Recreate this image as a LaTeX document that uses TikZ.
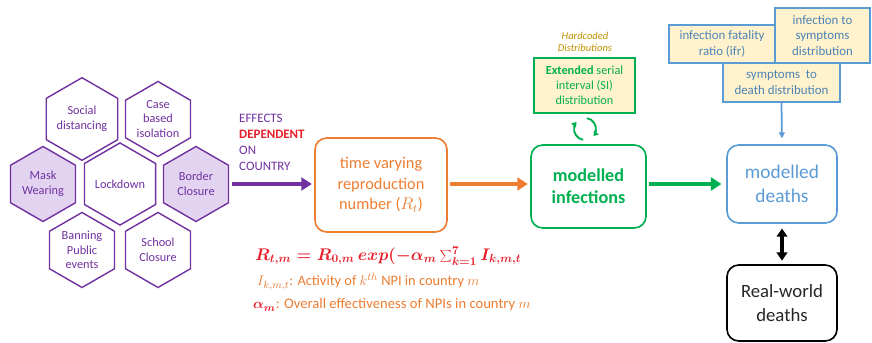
\documentclass[tikz,border=0pt]{standalone}
\usepackage{fontspec}
\setmainfont{Carlito}
\usetikzlibrary{shapes.geometric,arrows.meta}
\definecolor{npipurple}{RGB}{112,48,160}
\definecolor{npifill}{RGB}{226,212,240}
\definecolor{rtorange}{RGB}{237,125,49}
\definecolor{infgreen}{RGB}{0,176,80}
\definecolor{dthblue}{RGB}{91,155,213}
\definecolor{distbeige}{RGB}{255,242,204}
\definecolor{hardgold}{RGB}{191,144,0}
\definecolor{effred}{RGB}{232,30,40}
\newcommand{\rtmformula}{\mbox{\boldmath$R_{t,m} = R_{0,m}\, exp\bigl(-\alpha_m \textstyle\sum_{k=1}^{7} I_{k,m,t}$}}
\newcommand{\alphabold}{\mbox{\boldmath$\alpha_m$}}

\begin{document}
\begin{tikzpicture}[x=0.03cm, y=-0.03cm,
    hexa/.style={regular polygon, regular polygon sides=6, shape border rotate=30, minimum size=2.25cm,
      inner sep=0pt, draw=npipurple, line width=1.2pt, text=npipurple, align=center,
      font=\fontsize{10.5}{12.5}\selectfont},
    hexon/.style={hexa, fill=npifill},
    stagebox/.style={draw, rounded corners=10pt, line width=1.4pt, align=center, inner sep=0pt,
      font=\fontsize{14}{17.5}\selectfont},
    distbox/.style={draw=dthblue, fill=distbeige, line width=1.4pt, align=center, inner sep=0pt,
      text=dthblue!85!black, font=\fontsize{11}{13}\selectfont},
    fatarrow/.style={line width=2.6pt, -{Triangle[length=9pt, width=11pt]}}]
  \useasboundingbox (0,0) rectangle (872,343);

  % the NPIs
  \node[hexa]  (social) at (82,119)  {Social\\distancing};
  \node[hexa]  (case)   at (158,119) {Case\\based\\isolation};
  \node[hexon] (mask)   at (43,184)  {Mask\\Wearing};
  \node[hexa]  (lock)   at (120,184) {Lockdown};
  \node[hexon] (border) at (196,184) {Border\\Closure};
  \node[hexa]  (ban)    at (82,250)  {Banning\\Public\\events};
  \node[hexa]  (school) at (158,250) {School\\Closure};

  \node[anchor=west, inner sep=0pt, align=left, text=npipurple, font=\fontsize{11}{13.6}\selectfont]
    (effects) at (239,142) {EFFECTS\\\textcolor{effred}{\textbf{DEPENDENT}}\\ON\\COUNTRY};

  % model chain
  \node[stagebox, draw=rtorange, text=rtorange, minimum width=3.96cm, minimum height=2.82cm]
    (rt) at (381,185) {time varying\\reproduction\\number ($R_t$)};
  \node[stagebox, draw=infgreen, text=infgreen, minimum width=3.45cm, minimum height=2.49cm,
    font=\fontsize{15.5}{19}\selectfont\bfseries]
    (inf) at (588.5,186.5) {modelled\\infections};
  \node[stagebox, draw=dthblue, text=dthblue, minimum width=3.3cm, minimum height=2.34cm,
    font=\fontsize{16.5}{20}\selectfont]
    (mdeaths) at (782,184) {modelled\\deaths};
  \node[stagebox, draw=black, text=black!85, minimum width=3.3cm, minimum height=2.28cm,
    font=\fontsize{16}{20}\selectfont]
    (rwdeaths) at (782,303) {Real-world\\deaths};

  % hardcoded distributions
  \node[font=\fontsize{9}{10.5}\selectfont\itshape, text=hardgold, align=center]
    (hard) at (585,42) {Hardcoded\\Distributions};
  \node[distbox, draw=infgreen, text=infgreen, minimum width=3.03cm, minimum height=1.65cm,
    font=\fontsize{10.5}{13}\selectfont]
    (si) at (584.5,85.5) {\textbf{Extended} serial\\interval (SI)\\distribution};
  \node[distbox, minimum width=3.18cm, minimum height=1.14cm] (ifr) at (722,44)
    {infection fatality\\ratio (ifr)};
  \node[distbox, minimum width=2.85cm, minimum height=1.65cm] (its) at (822.5,35.5)
    {infection to\\symptoms\\distribution};
  \node[distbox, minimum width=3.51cm, minimum height=1.17cm] (std) at (781.5,82.5)
    {symptoms\ \ to\\death distribution};

  % formulas
  \node[anchor=west, inner sep=0pt, text=effred, font=\fontsize{14}{16}\selectfont] (eq) at (255,256) {\rtmformula};
  \node[anchor=west, inner sep=0pt, text=rtorange, font=\fontsize{12.3}{14}\selectfont] (act) at (257,282)
    {$I_{k,m,t}$: Activity of $k^{th}$ NPI in country $m$};
  \node[anchor=west, inner sep=0pt, text=rtorange, font=\fontsize{12.5}{14}\selectfont] (alpha) at (253,305)
    {\textcolor{effred}{\alphabold}: Overall effectiveness of NPIs in country $m$};

  % connectors
  \draw[fatarrow, npipurple, shorten <=2pt, shorten >=2pt] (border.east) -- (border.east -| rt.west);
  \draw[fatarrow, rtorange, line width=3.2pt, shorten <=2pt, shorten >=2pt] (rt.east |- mdeaths.west) -- (rt.east |- mdeaths.west -| inf.west);
  \draw[fatarrow, infgreen, line width=3.2pt, shorten <=2pt, shorten >=4pt] (inf.east |- mdeaths.west) -- (mdeaths.west);
  \draw[dthblue, line width=1.5pt, -{Triangle[length=5pt, width=5pt]}, shorten >=5pt] (std.south) -- (mdeaths.north);
  \draw[line width=2.6pt, {Triangle[length=7pt, width=9pt]}-{Triangle[length=7pt, width=9pt]},
    shorten <=4pt, shorten >=3pt] (mdeaths.south) -- (rwdeaths.north);

  % recycle sign between SI and infections
  \coordinate (loop) at (585,129);
  \draw[infgreen, line width=1.6pt, -{Triangle[length=4pt, width=5pt]}] ([shift={(80:0.33cm)}]loop) arc (80:-40:0.33cm);
  \draw[infgreen, line width=1.6pt, -{Triangle[length=4pt, width=5pt]}] ([shift={(260:0.33cm)}]loop) arc (260:140:0.33cm);
\end{tikzpicture}
\end{document}
